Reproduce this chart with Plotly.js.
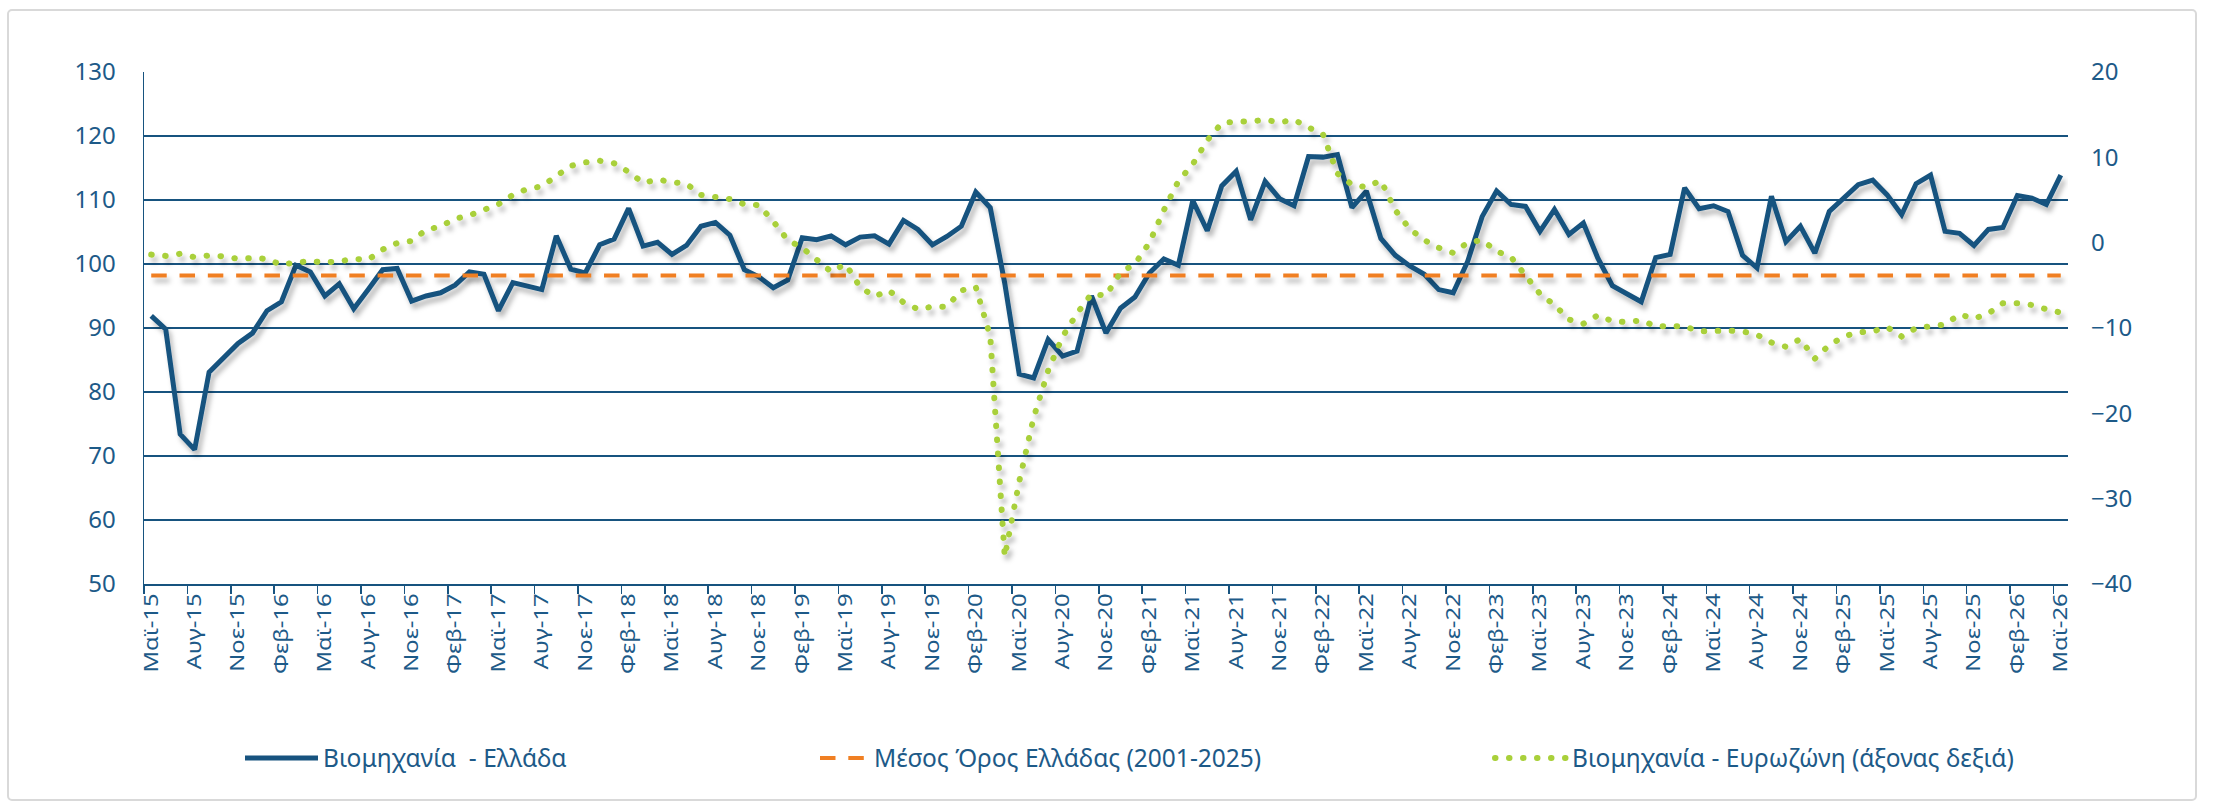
<!DOCTYPE html>
<html>
<head>
<meta charset="utf-8">
<script src="https://cdn.plot.ly/plotly-3.0.1.min.js"></script>
<style>
html,body{margin:0;padding:0;background:#ffffff;}
#wrap{position:relative;width:2218px;height:811px;overflow:hidden;}
#chart{position:absolute;left:0;top:0;width:2218px;height:811px;}
#frame{position:absolute;left:7px;top:9px;width:2190px;height:792px;border:2px solid #d9d9d9;border-radius:5px;box-sizing:border-box;pointer-events:none;}
</style>
</head>
<body>
<div id="wrap"><div id="chart"></div><div id="frame"></div></div>
<script>
// Month abbreviations used for the category axis (May 2015 .. May 2026)
const monthNames = ["Ιαν","Φεβ","Μαρ","Απρ","Μαϊ","Ιουν","Ιουλ","Αυγ","Σεπ","Οκτ","Νοε","Δεκ"];
const startMonthIndex = 4;   // Μαϊ
const startYear = 15;
const nMonths = 133;

// Industry confidence - Greece (left axis)
const industryGreece = [
  91.9, 89.8, 73.4, 71.0, 83.1, 85.4, 87.6, 89.2, 92.7, 94.1,
  99.8, 98.75, 95.0, 96.9, 93.0, 96.0, 99.1, 99.3, 94.2, 95.0,
  95.5, 96.7, 98.75, 98.4, 92.7, 97.1, 96.6, 96.0, 104.4, 99.2,
  98.6, 103.0, 103.9, 108.7, 102.8, 103.4, 101.5, 102.9, 105.9, 106.5,
  104.5, 99.1, 98.0, 96.3, 97.5, 104.1, 103.8, 104.4, 103.0, 104.2,
  104.4, 103.1, 106.8, 105.4, 103.0, 104.3, 105.9, 111.25, 108.8, 97.0,
  82.8, 82.2, 88.2, 85.6, 86.4, 95.0, 89.2, 93.1, 94.85, 98.6,
  100.8, 99.8, 109.9, 105.2, 112.2, 114.5, 106.9, 112.9, 110.2, 109.1,
  116.8, 116.7, 117.1, 108.8, 111.4, 104.0, 101.35, 99.7, 98.4, 96.0,
  95.5, 100.4, 107.4, 111.4, 109.3, 109.0, 105.1, 108.5, 104.6, 106.4,
  100.9, 96.6, 95.35, 94.1, 101.0, 101.5, 111.9, 108.65, 109.1, 108.2,
  101.35, 99.4, 110.6, 103.5, 105.9, 101.7, 108.2, 110.2, 112.4, 113.1,
  110.8, 107.7, 112.55, 113.9, 105.1, 104.8, 102.9, 105.4, 105.7, 110.7,
  110.3, 109.3, 113.9
];

// Industry confidence - Eurozone (right axis)
const industryEurozone = [
  -1.4, -1.55, -1.3, -1.7, -1.5, -1.6, -1.9, -1.8, -1.9, -2.6,
  -2.3, -2.2, -2.3, -2.2, -1.9, -2.0, -0.8, -0.05, 0.2, 1.5,
  1.9, 2.8, 3.2, 3.9, 4.5, 5.6, 6.3, 6.6, 7.8, 9.0,
  9.4, 9.6, 9.3, 8.3, 7.0, 7.4, 7.1, 6.9, 5.6, 5.3,
  5.1, 4.5, 4.4, 2.5, 0.3, -0.6, -1.9, -3.4, -2.5, -5.2,
  -6.3, -5.6, -7.0, -7.8, -7.5, -7.5, -5.6, -5.2, -11.0, -36.8,
  -28.0, -20.5, -15.0, -11.0, -8.3, -6.0, -6.2, -3.5, -2.5, 0.0,
  3.8, 7.2, 9.2, 12.0, 14.0, 14.2, 14.2, 14.4, 14.1, 14.4,
  13.5, 12.7, 8.1, 6.8, 6.5, 7.3, 3.8, 1.6, 0.3, -0.6,
  -1.2, 0.0, 0.3, -1.0, -1.7, -3.8, -6.0, -7.3, -9.0, -9.5,
  -8.5, -9.2, -9.3, -9.1, -9.8, -9.8, -9.8, -10.4, -10.3, -10.3,
  -10.4, -10.8, -11.7, -12.2, -11.3, -13.6, -12.0, -11.0, -10.5, -10.4,
  -9.9, -11.0, -10.0, -9.8, -9.6, -8.4, -8.9, -8.3, -7.1, -7.1,
  -7.3, -7.8, -8.2
];

// Greek long-run average 2001-2025 (left axis)
const avgGreece = 98.2;

const seriesNames = ["Βιομηχανία\u00a0 - Ελλάδα", "Μέσος Όρος Ελλάδας (2001-2025)", "Βιομηχανία - Ευρωζώνη (άξονας δεξιά)"];

const categories = [];
for (let k = 0; k < nMonths; k++) {
  const m = (startMonthIndex + k) % 12;
  const y = startYear + Math.floor((startMonthIndex + k) / 12);
  categories.push(monthNames[m] + "-" + y);
}

const navy = "#17537f";
const textCol = "#1d5a88";
const orange = "#f07f23";
const lime = "#a9d03a";
const fontFam = "'Noto Sans', 'DejaVu Sans', sans-serif";

const traces = [
  {
    type: "scatter", mode: "lines", name: seriesNames[0],
    x: categories, y: industryGreece, xaxis: "x", yaxis: "y",
    line: {color: navy, width: 5},
    legend: "legend", hoverinfo: "skip"
  },
  {
    type: "scatter", mode: "lines", name: seriesNames[1],
    x: [categories[0], categories[nMonths - 1]], y: [avgGreece, avgGreece],
    xaxis: "x", yaxis: "y",
    line: {color: orange, width: 4, dash: "15.5px,12.8px"},
    legend: "legend2", hoverinfo: "skip"
  },
  {
    type: "scatter", mode: "lines", name: seriesNames[2],
    x: categories, y: industryEurozone, xaxis: "x", yaxis: "y2",
    line: {color: lime, width: 6, dash: "0.5px,13.5px"},
    legend: "legend3", hoverinfo: "skip"
  }
];

const L = 144, R = 2218 - 2068, T = 72, B = 811 - 584;
const plotW = 2218 - L - R;
const px2paper = (px) => (px - L) / plotW;
const legY = (584 - 758) / (584 - 72);

const legendBase = {
  orientation: "h", xanchor: "left", yanchor: "middle", y: legY,
  font: {family: fontFam, size: 24.5, color: textCol},
  bgcolor: "rgba(0,0,0,0)", borderwidth: 0
};

const layout = {
  width: 2218, height: 811,
  margin: {l: L, r: R, t: T, b: B, pad: 0},
  paper_bgcolor: "#ffffff", plot_bgcolor: "#ffffff",
  showlegend: true,
  font: {family: fontFam, color: textCol},
  xaxis: {
    type: "category", range: [-0.5, nMonths - 0.5],
    tickmode: "linear", tick0: 0, dtick: 3,
    tickson: "boundaries", ticks: "outside", ticklen: 8, tickwidth: 1.5, tickcolor: navy,
    tickangle: -90, tickfont: {family: fontFam, size: 19.5, color: textCol},
    showgrid: false, showline: true, linecolor: navy, linewidth: 1.5,
    zeroline: false, fixedrange: true, automargin: false
  },
  yaxis: {
    range: [50, 130], tickmode: "linear", tick0: 50, dtick: 10,
    showgrid: true, gridcolor: navy, gridwidth: 1.5,
    showline: true, linecolor: navy, linewidth: 1.5,
    ticks: "", ticklabelstandoff: 22,
    tickfont: {family: fontFam, size: 24, color: textCol},
    zeroline: false, fixedrange: true, automargin: false
  },
  yaxis2: {
    overlaying: "y", side: "right", range: [-40, 20], tickmode: "linear", tick0: -40, dtick: 10,
    showgrid: false, showline: false, ticks: "", ticklabelstandoff: 22,
    tickfont: {family: fontFam, size: 24, color: textCol},
    zeroline: false, fixedrange: true, automargin: false
  },
  legend: Object.assign({}, legendBase, {x: px2paper(240), itemwidth: 73}),
  legend2: Object.assign({}, legendBase, {x: px2paper(815), itemwidth: 49}),
  legend3: Object.assign({}, legendBase, {x: px2paper(1490), itemwidth: 72})
};

const gd = document.getElementById("chart");
Plotly.newPlot(gd, traces, layout, {displayModeBar: false, staticPlot: true}).then(function () {
  const ns = "http://www.w3.org/2000/svg";
  const svg = gd.querySelector("svg.main-svg");
  let defs = svg.querySelector("defs");
  if (!defs) { defs = document.createElementNS(ns, "defs"); svg.insertBefore(defs, svg.firstChild); }
  const f = document.createElementNS(ns, "filter");
  f.setAttribute("id", "lnShadow");
  f.setAttribute("filterUnits", "userSpaceOnUse");
  f.setAttribute("x", "-300"); f.setAttribute("y", "-300");
  f.setAttribute("width", "3000"); f.setAttribute("height", "1500");
  const ds = document.createElementNS(ns, "feDropShadow");
  ds.setAttribute("dx", "3"); ds.setAttribute("dy", "5");
  ds.setAttribute("stdDeviation", "2.5");
  ds.setAttribute("flood-color", "#000000"); ds.setAttribute("flood-opacity", "0.28");
  f.appendChild(ds); defs.appendChild(f);
  gd.querySelectorAll(".scatterlayer .trace path.js-line").forEach(function (p) {
    p.setAttribute("filter", "url(#lnShadow)");
  });
  // round dots for the eurozone series (plot + legend)
  gd.querySelectorAll("path.js-line, .legendlines path").forEach(function (p) {
    if ((p.style.stroke || "").replace(/\s/g, "") === "rgb(169,208,58)") {
      p.style.strokeLinecap = "round";
    }
  });
  // elongate rotated x tick labels like the original rendering
  gd.querySelectorAll(".xaxislayer-above .xtick text").forEach(function (t) {
    const len = t.getComputedTextLength();
    if (len > 0) {
      t.setAttribute("textLength", (len * 1.22).toFixed(1));
      t.setAttribute("lengthAdjust", "spacingAndGlyphs");
    }
  });
});
</script>
</body>
</html>
